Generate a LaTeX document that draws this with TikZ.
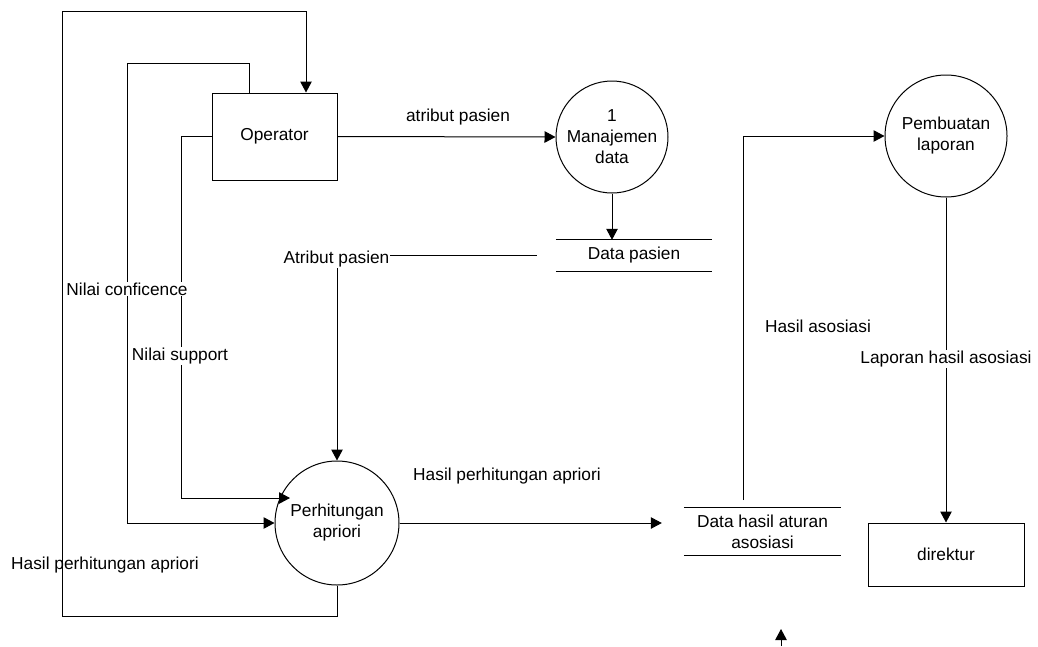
\documentclass[tikz,border=0pt]{standalone}
\usepackage{fontspec}
\setmainfont{Liberation Sans}
\usetikzlibrary{arrows.meta,calc}
\begin{document}
\begin{tikzpicture}[x=1pt,y=-1pt,
  every node/.style={font=\fontsize{17.3}{21}\selectfont, align=center},
  flow/.style={line width=1pt, draw=black},
  arr/.style={flow, -{Triangle[length=11pt,width=11.5pt]}},
  entity/.style={draw, line width=1pt, minimum width=125pt, minimum height=87pt, inner sep=0pt},
  proc/.style={draw, circle, line width=1pt, inner sep=0pt},
  store/.style={inner sep=0pt, minimum height=31pt},
  lbl/.style={inner sep=1pt},
  mask/.style={fill=white, inner sep=1pt}]
\useasboundingbox (0,0) rectangle (1038,646);

% external entities
\node[entity] (op) at (274.5,136.5) {Operator};
\node[entity, minimum width=156pt, minimum height=63pt] (dir) at (946,554.5) {direktur};

% processes
\node[proc, minimum size=112pt] (man) at (612,137) {1\\Manajemen\\data};
\node[proc, minimum size=124pt] (per) at (337,523) {Perhitungan\\apriori};
\node[proc, minimum size=122pt] (pem) at (946,136) {Pembuatan\\laporan};

% data stores
\node[store, minimum width=156pt] (dp) at (634,255.5) {Data pasien};
\node[store, minimum width=157pt, minimum height=47pt] (dh) at (762.5,531.5) {Data hasil aturan\\asosiasi};
\foreach \s in {dp,dh}{
  \draw[flow] (\s.north west) -- (\s.north east);
  \draw[flow] (\s.south west) -- (\s.south east);
}

% loop of the apriori result back to the operator
\coordinate (t1) at (306,11);
\draw[arr] (per.south) |- (62,616) |- (t1) -- (t1 |- op.north);

% confidence value
\coordinate (t2) at (249,63);
\draw[arr] (t2 |- op.north) -- (t2) -| (127,523) -- (per.west);

% support value
\coordinate (t3) at (181,498);
\draw[arr] (op.west) -| (t3) -- ($(per.center)+(-47,-25)$);

% operator to data management
\draw[arr] (op.east) -- (man.west);
\node[lbl] (l1) at (458,117) {atribut pasien};

% data management to patient store
\draw[arr] (man.south) -- (man.south |- dp.north);

% patient attributes into the apriori process
\coordinate (t4) at ($(dp.west)+(-19,0)$);
\draw[arr] (t4) -- (t4 -| per.north) -- (per.north);
\node[mask] (l2) at (336.5,259) {Atribut pasien};

% apriori result into the rule store
\coordinate (t5) at ($(dh.west)+(-22,-8.5)$);
\draw[arr] (per.east) -- (t5 |- per.east);
\node[lbl] (l3) at (507,476) {Hasil perhitungan apriori};

% association result to report
\coordinate (t6) at (743,500);
\draw[arr] (t6) |- (pem.west);
\node[lbl] (l4) at (818,326) {Hasil asosiasi};

% report to director
\draw[arr] (pem.south) -- (dir.north);
\node[mask] (l5) at (946,359) {Laporan hasil asosiasi};

% labels on the operator inputs
\node[mask] (l6) at (127,289) {Nilai conficence};
\node[mask] (l7) at (180,356) {Nilai support};
\node[lbl] (l8) at (105,565) {Hasil perhitungan apriori};

% short stub arrow at the bottom edge
\coordinate (s1) at (781,646);
\coordinate (s2) at (781,629);
\draw[arr] (s1) -- (s2);
\end{tikzpicture}
\end{document}
